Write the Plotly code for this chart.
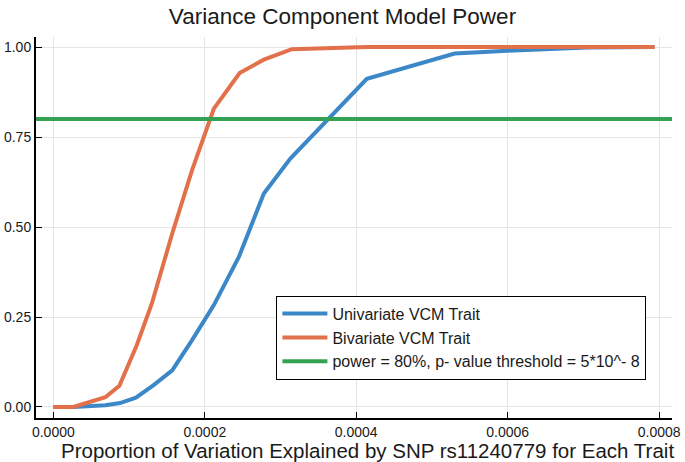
import plotly.graph_objects as go

# Data (x = proportion of variation explained)
uni_x = [0.0, 0.0000264, 0.0000687, 0.0000880, 0.0001090, 0.0001320, 0.0001570,
         0.0001830, 0.0002120, 0.0002450, 0.0002780, 0.0003130, 0.0004140,
         0.0005300, 0.0006000, 0.0007050, 0.0007940]
uni_y = [0.0, 0.0, 0.005, 0.011, 0.026, 0.060, 0.102, 0.185, 0.283, 0.417,
         0.593, 0.690, 0.912, 0.982, 0.990, 0.999, 1.0]

bi_x = [0.0, 0.0000264, 0.0000687, 0.0000872, 0.0001100, 0.0001300, 0.0001570,
        0.0001830, 0.0002120, 0.0002460, 0.0002780, 0.0003150, 0.0004140,
        0.0005300, 0.0007940]
bi_y = [0.0, 0.0, 0.027, 0.059, 0.171, 0.287, 0.482, 0.657, 0.829, 0.928,
        0.965, 0.994, 1.0, 1.0, 1.0]

threshold = 0.8
x_range = [-0.0000229, 0.000817]
y_range = [-0.0306, 1.028]
x_ticks = [0.0, 0.0002, 0.0004, 0.0006, 0.0008]
y_ticks = [0.0, 0.25, 0.5, 0.75, 1.0]

names = ["Univariate VCM Trait", "Bivariate VCM Trait",
         "power = 80%, p- value threshold = 5*10^- 8"]
colors = ["#3B87C8", "#E2704A", "#35A153"]
x_title = "Proportion of Variation Explained by SNP rs11240779 for Each Trait"

fig = go.Figure()
fig.add_trace(go.Scatter(x=uni_x, y=uni_y, mode="lines", name=names[0],
                         line=dict(color=colors[0], width=4)))
fig.add_trace(go.Scatter(x=bi_x, y=bi_y, mode="lines", name=names[1],
                         line=dict(color=colors[1], width=4)))
fig.add_trace(go.Scatter(x=x_range, y=[threshold, threshold], mode="lines",
                         name=names[2], line=dict(color=colors[2], width=4)))

font_family = "Liberation Sans, Arial, sans-serif"
text_color = "#1A1A1A"
fig.update_layout(
    width=685, height=462,
    margin=dict(l=36, r=13, t=37, b=44),
    paper_bgcolor="white", plot_bgcolor="white",
    font=dict(family=font_family, color=text_color, size=14),
    title=dict(text="Variance Component Model Power", x=0.5, xanchor="center",
               y=1 - 16 / 462, yref="container", yanchor="middle",
               font=dict(size=22.5, color=text_color)),
    showlegend=True,
    legend=dict(x=0.378, y=0.321, xanchor="left", yanchor="top",
                bordercolor="black", borderwidth=1, bgcolor="white",
                itemwidth=45,
                font=dict(size=16, color=text_color), tracegroupgap=0),
    annotations=[dict(text=x_title, xref="paper", yref="paper",
                      x=0.5205, y=-0.084, xanchor="center", yanchor="middle",
                      showarrow=False, font=dict(size=20.5, color=text_color))],
)
fig.update_xaxes(range=x_range, tickvals=x_ticks, tickformat=".4f",
                 automargin=False, ticklabeloverflow="allow",
                 showgrid=True, gridcolor="#E5E5E5", gridwidth=1,
                 showline=True, linecolor="black", linewidth=2,
                 ticks="inside", ticklen=6, tickcolor="black", tickwidth=1,
                 zeroline=False, mirror=False, tickfont=dict(size=14))
fig.update_yaxes(range=y_range, tickvals=y_ticks, tickformat=".2f",
                 automargin=False, ticklabeloverflow="allow",
                 showgrid=True, gridcolor="#E5E5E5", gridwidth=1,
                 showline=True, linecolor="black", linewidth=2,
                 ticks="inside", ticklen=6, tickcolor="black", tickwidth=1,
                 zeroline=False, mirror=False, tickfont=dict(size=14))

fig.write_html("out.html", config={"displayModeBar": False},
               post_script="document.body.style.margin='0px';document.body.style.padding='0px';")
